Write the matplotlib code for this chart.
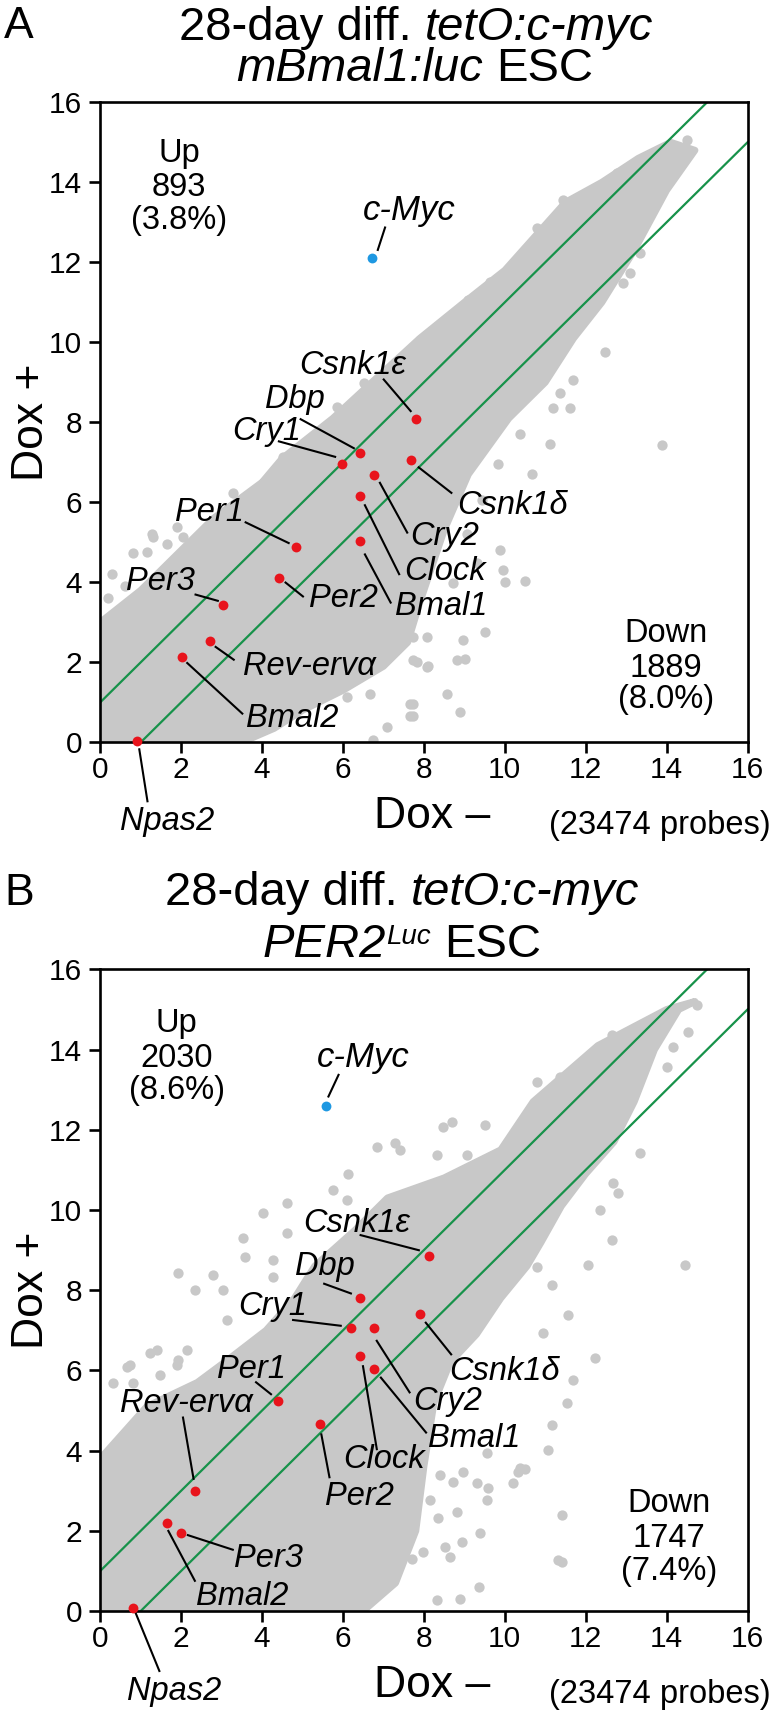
import matplotlib
matplotlib.use("Agg")
import matplotlib.pyplot as plt

plt.rcParams['font.family'] = ['Liberation Sans', 'DejaVu Sans']

W, H, DPI = 772, 1713, 100

# ---------------- data ----------------
genes = ['Csnk1ε', 'Dbp', 'Cry1', 'Csnk1δ', 'Cry2', 'Clock', 'Bmal1',
         'Per1', 'Per2', 'Per3', 'Rev-ervα', 'Bmal2', 'Npas2']

# panel A (mBmal1:luc)
A_gene_x = [7.81, 6.43, 5.97, 7.67, 6.76, 6.41, 6.41, 4.85, 4.43, 3.03, 2.70, 2.02, 0.91]
A_gene_y = [8.09, 7.24, 6.96, 7.05, 6.69, 6.15, 5.03, 4.88, 4.12, 3.44, 2.54, 2.13, 0.03]
A_myc = [6.71, 12.11]
A_up_count, A_up_pct = 893, 3.8
A_down_count, A_down_pct = 1889, 8.0

# dense core of the probe cloud (upper / lower envelope)
A_core_up_x = [0, 1, 2, 2.8, 4, 4.5, 5.75, 6.5, 7.9, 9.0, 10.0, 11.5, 12.4, 13.3, 14.1, 14.7]
A_core_up_y = [3.0, 3.8, 4.8, 5.6, 6.5, 7.1, 8.1, 8.8, 10.1, 11.0, 11.8, 13.5, 14.0, 14.6, 15.0, 14.8]
A_core_lo_x = [0, 3.5, 4.3, 5.0, 6.0, 7.0, 7.6, 7.9, 8.5, 9.1, 10.1, 11.0, 11.7, 12.4, 13.2, 14.0, 14.7]
A_core_lo_y = [0, 0, 0.35, 0.8, 1.3, 1.9, 2.5, 3.5, 5.3, 6.7, 8.1, 9.0, 10.1, 11.0, 12.3, 13.8, 14.8]

A_out_x = [9.46, 9.63, 6.51, 5.84, 4.52, 4.03, 3.29, 1.31, 0.81, 1.89, 2.38, 1.15, 1.64, 2.05,
           1.27, 9.10, 10.79, 11.45, 12.77, 7.90, 14.50, 14.02, 0.30, 0.60, 0.20,
           7.74, 8.07, 8.97, 9.51, 8.81, 7.74, 8.07, 9.96, 10.00, 10.50, 9.02, 8.56, 7.74,
           7.74, 8.89, 7.82, 8.11, 6.67, 7.66, 7.66, 6.75, 7.08, 6.09, 12.48, 11.69, 11.61,
           11.20, 13.88, 11.12, 10.67, 9.84, 13.10, 12.93, 13.34, 10.95, 11.36, 9.88, 10.37,
           9.43, 9.88, 9.06, 9.31, 8.73]
A_out_y = [11.31, 11.52, 8.98, 8.39, 7.14, 6.48, 6.23, 5.14, 4.73, 5.39, 5.14, 4.77, 4.97, 5.14,
           5.22, 11.06, 12.85, 13.56, 14.22, 10.06, 15.06, 14.00, 4.20, 3.90, 3.60,
           2.64, 2.64, 2.56, 2.77, 2.06, 2.06, 1.89, 4.31, 4.02, 4.04, 2.08, 1.22, 0.97,
           0.66, 0.77, 2.02, 1.91, 1.22, 0.97, 0.66, 0.06, 0.39, 1.14, 9.77, 9.06, 8.35,
           8.35, 7.43, 7.47, 6.72, 6.97, 11.72, 11.47, 12.23, 9.31, 8.73, 7.97, 7.72,
           6.06, 4.81, 5.22, 4.48, 3.98]

# panel B (PER2^Luc)
B_gene_x = [8.13, 6.41, 6.20, 7.91, 6.76, 6.41, 6.76, 4.40, 5.42, 2.00, 2.35, 1.65, 0.82]
B_gene_y = [8.85, 7.81, 7.05, 7.41, 7.05, 6.36, 6.03, 5.24, 4.66, 1.95, 3.00, 2.19, 0.08]
B_myc = [5.57, 12.59]
B_up_count, B_up_pct = 2030, 8.6
B_down_count, B_down_pct = 1747, 7.4

B_core_up_x = [0, 1.15, 2.4, 3.2, 4.1, 4.8, 5.3, 6.3, 7.1, 8.5, 9.9, 10.7, 12.3, 14.0, 14.7]
B_core_up_y = [3.8, 5.1, 5.7, 6.3, 7.0, 7.8, 8.6, 9.5, 10.3, 10.8, 11.5, 12.7, 14.1, 15.0, 15.2]
B_core_lo_x = [0, 6.5, 7.3, 7.8, 8.0, 8.25, 8.65, 9.3, 9.9, 10.55, 10.9, 11.4, 12.0, 12.7,
               13.2, 13.7, 14.3, 14.7]
B_core_lo_y = [0, 0, 0.7, 2.0, 3.6, 5.2, 6.2, 6.9, 7.8, 8.6, 9.2, 10.1, 10.9, 11.7,
               12.7, 14.0, 15.0, 15.2]

B_out_x = [8.69, 9.51, 6.83, 7.29, 7.41, 8.32, 9.06, 6.13, 5.76, 4.61, 4.03, 3.54, 3.58, 2.79,
           1.93, 2.34, 4.28, 3.12, 2.14, 1.23, 0.65, 0.32, 1.93, 0.73, 1.48, 1.89, 10.79,
           11.36, 12.64, 14.74, 14.54, 14.17, 14.00, 8.48, 6.09, 4.28, 4.61, 3.04, 1.39, 0.82,
           13.34, 12.68, 12.80, 12.35, 12.64, 12.06, 14.45, 11.16, 11.57, 10.95, 12.23, 11.69,
           11.53, 11.16, 11.08, 10.38, 10.33, 10.49, 10.21, 9.59, 9.55, 9.31, 8.73, 8.97, 8.40,
           11.41, 9.39, 8.93, 8.52, 8.81, 8.36, 8.15, 8.65, 7.99, 11.32, 11.41, 9.35, 8.89,
           8.32, 7.70, 9.55, 10.79]
B_out_y = [12.20, 12.12, 11.58, 11.66, 11.50, 11.37, 11.37, 10.91, 10.50, 10.17, 9.92, 9.29,
           8.84, 8.38, 8.42, 8.00, 8.34, 7.26, 6.51, 6.43, 6.09, 5.68, 6.26, 6.13, 5.89, 6.13,
           13.20, 13.32, 14.36, 15.11, 14.45, 14.07, 13.57, 12.08, 10.25, 8.75, 9.42, 8.00,
           6.51, 5.68,
           11.41, 10.67, 10.42, 10.00, 9.25, 8.63, 8.63, 8.13, 7.38, 6.93, 6.30, 5.76,
           5.18, 4.64, 4.01, 3.56, 3.47, 3.54, 3.18, 3.06, 2.77, 3.18, 3.22, 3.47, 3.39,
           2.39, 1.94, 1.73, 1.60, 2.48, 2.31, 2.77, 1.35, 1.48, 1.27, 1.23, 0.61, 0.29,
           0.27, 1.30, 3.93, 8.59]

n_probes = 23474
ticks = [0, 2, 4, 6, 8, 10, 12, 14, 16]

# ---------------- layout (not data) ----------------
A_lab = {  # text centre x, baseline y, leader start, leader end
    'Csnk1ε': (6.24, 9.22, (6.99, 9.09), (7.69, 8.26)),
    'Dbp': (4.80, 8.35, (4.93, 8.09), (6.29, 7.34)),
    'Cry1': (4.11, 7.55, (4.39, 7.53), (5.83, 7.13)),
    'Csnk1δ': (10.18, 5.72, (7.85, 6.89), (8.70, 6.22)),
    'Cry2': (8.51, 4.93, (6.90, 6.51), (7.60, 5.22)),
    'Clock': (8.51, 4.05, (6.53, 5.95), (7.40, 4.18)),
    'Bmal1': (8.43, 3.18, (6.53, 4.72), (7.19, 3.47)),
    'Per1': (2.70, 5.53, (3.57, 5.51), (4.68, 4.97)),
    'Per2': (6.00, 3.38, (4.56, 4.01), (5.03, 3.63)),
    'Per3': (1.49, 3.80, (2.33, 3.70), (2.93, 3.53)),
    'Rev-ervα': (5.17, 1.68, (2.83, 2.40), (3.32, 2.05)),
    'Bmal2': (4.74, 0.38, (2.13, 2.00), (3.53, 0.70)),
    'Npas2': (1.65, -2.20, (0.96, -0.15), (1.17, -1.50)),
}
A_myc_lab = (7.63, 13.06, (7.04, 12.87), (6.86, 12.31))
B_lab = {
    'Csnk1ε': (6.33, 9.46, (6.41, 9.38), (7.90, 8.99)),
    'Dbp': (5.54, 8.38, (5.51, 8.17), (6.22, 7.91)),
    'Cry1': (4.26, 7.38, (4.74, 7.26), (5.97, 7.11)),
    'Csnk1δ': (9.99, 5.76, (8.03, 7.21), (8.69, 6.38)),
    'Cry2': (8.59, 5.01, (6.82, 6.76), (7.66, 5.43)),
    'Bmal1': (9.24, 4.10, (6.92, 5.84), (8.07, 4.43)),
    'Clock': (7.02, 3.56, (6.49, 6.13), (6.84, 4.01)),
    'Per2': (6.40, 2.64, (5.46, 4.43), (5.67, 3.31)),
    'Per1': (3.73, 5.80, (3.83, 5.72), (4.24, 5.39)),
    'Rev-ervα': (2.12, 4.97, (2.04, 4.85), (2.31, 3.27)),
    'Per3': (4.16, 1.10, (2.14, 1.90), (3.30, 1.52)),
    'Bmal2': (3.52, 0.15, (1.67, 2.02), (2.35, 0.73)),
    'Npas2': (1.82, -2.22, (0.87, -0.04), (1.47, -1.52)),
}
B_myc_lab = (6.50, 13.57, (5.89, 13.37), (5.64, 12.83))

GRAY = '#c8c8c8'
GREEN = '#17924a'
RED = '#e8141c'
BLUE = '#1e98e2'

fig = plt.figure(figsize=(W / DPI, H / DPI), dpi=DPI)


def px_axes(left, top, right, bottom):
    return fig.add_axes([left / W, 1 - bottom / H, (right - left) / W, (bottom - top) / H])


axA = px_axes(100.3, 102.3, 747.5, 742.3)
axB = px_axes(100.3, 969.4, 747.5, 1611.0)


def draw_panel(ax, core_up_x, core_up_y, core_lo_x, core_lo_y, out_x, out_y,
               gx, gy, myc, labels, myc_lab, up, down, up_pos, down_pos):
    poly_x = list(core_up_x) + list(core_lo_x[::-1])
    poly_y = list(core_up_y) + list(core_lo_y[::-1])
    ax.fill(poly_x, poly_y, facecolor=GRAY, edgecolor=GRAY, linewidth=5,
            joinstyle='round', zorder=1)
    ax.scatter(out_x, out_y, s=55, color=GRAY, linewidths=0, zorder=1)
    ax.plot([0, 16], [1, 17], color=GREEN, lw=1.6, zorder=2)
    ax.plot([0, 16], [-1, 15], color=GREEN, lw=1.6, zorder=2)
    for g, x, y in zip(genes, gx, gy):
        tx, ty, p1, p2 = labels[g]
        ax.plot([p1[0], p2[0]], [p1[1], p2[1]], color='black', lw=1.5,
                zorder=3, clip_on=False, solid_capstyle='butt')
        ax.text(tx, ty, g, style='italic', fontsize=23.5, ha='center',
                va='baseline', zorder=5, clip_on=False)
    ax.scatter(gx, gy, s=50, color=RED, linewidths=0, zorder=4, clip_on=False)
    tx, ty, p1, p2 = myc_lab
    ax.plot([p1[0], p2[0]], [p1[1], p2[1]], color='black', lw=1.5, zorder=3)
    ax.text(tx, ty, 'c-Myc', style='italic', fontsize=25, ha='center', va='baseline')
    ax.scatter([myc[0]], [myc[1]], s=50, color=BLUE, linewidths=0, zorder=4)

    ux, uys = up_pos
    for t, yy in zip(['Up', str(up[0]), '(%.1f%%)' % up[1]], uys):
        ax.text(ux, yy, t, fontsize=23.5, ha='center', va='baseline')
    dx, dys = down_pos
    for t, yy in zip(['Down', str(down[0]), '(%.1f%%)' % down[1]], dys):
        ax.text(dx, yy, t, fontsize=23.5, ha='center', va='baseline')
    ax.text(16.56, -2.29, '(%d probes)' % n_probes, fontsize=23.5, ha='right',
            va='baseline', clip_on=False)
    ax.text(8.2, -2.14, 'Dox \u2013', fontsize=32, ha='center', va='baseline',
            clip_on=False)
    ax.text(-0.106, 0.5, 'Dox +', fontsize=32, rotation=90, ha='center',
            va='center', transform=ax.transAxes)

    ax.set_xlim(0, 16)
    ax.set_ylim(0, 16)
    ax.set_xticks(ticks)
    ax.set_yticks(ticks)
    ax.set_xticklabels([str(t) for t in ticks])
    ax.set_yticklabels([str(t) for t in ticks])
    for sp in ax.spines.values():
        sp.set_linewidth(1.9)
    ax.tick_params(axis='both', direction='out', length=8, width=1.9,
                   labelsize=21.5, top=False, right=False)
    ax.tick_params(axis='x', pad=2)
    ax.tick_params(axis='y', pad=5)


draw_panel(axA, A_core_up_x, A_core_up_y, A_core_lo_x, A_core_lo_y, A_out_x, A_out_y,
           A_gene_x, A_gene_y, A_myc, A_lab, A_myc_lab,
           (A_up_count, A_up_pct), (A_down_count, A_down_pct),
           (1.95, [14.5, 13.65, 12.82]), (13.98, [2.52, 1.64, 0.85]))
draw_panel(axB, B_core_up_x, B_core_up_y, B_core_lo_x, B_core_lo_y, B_out_x, B_out_y,
           B_gene_x, B_gene_y, B_myc, B_lab, B_myc_lab,
           (B_up_count, B_up_pct), (B_down_count, B_down_pct),
           (1.89, [14.45, 13.57, 12.76]), (14.06, [2.48, 1.60, 0.77]))

# ---------------- titles with mixed styles ----------------
renderer = fig.canvas.get_renderer()


def text_width(s, size, style):
    t = fig.text(0, 0, s, fontsize=size, style=style)
    w = t.get_window_extent(renderer).width
    t.remove()
    return w


def rich_line(cx, baseline, pieces):
    items = []
    total = 0.0
    for txt, style, size, rise in pieces:
        if txt == ' ':
            w = text_width('x x', size, style) - text_width('xx', size, style)
            items.append((None, w, rise))
        else:
            t = fig.text(0, 0, txt, fontsize=size, style=style, ha='left', va='baseline')
            w = t.get_window_extent(renderer).width
            items.append((t, w, rise))
        total += w
    x = cx - total / 2
    for t, w, rise in items:
        if t is not None:
            t.set_position((x / W, 1 - (baseline - rise) / H))
        x += w


TS = 34
rich_line(416, 40, [('28-day diff.', 'normal', TS, 0), (' ', 'normal', TS, 0),
                    ('tetO:c-myc', 'italic', TS, 0)])
rich_line(415, 81, [('mBmal1:luc', 'italic', TS, 0), (' ', 'normal', TS, 0),
                    ('ESC', 'normal', TS, 0)])
rich_line(402, 905, [('28-day diff.', 'normal', TS, 0), (' ', 'normal', TS, 0),
                     ('tetO:c-myc', 'italic', TS, 0)])
rich_line(402, 957, [('PER2', 'italic', TS, 0), ('Luc', 'italic', 20, 13),
                     (' ', 'normal', TS, 0), ('ESC', 'normal', TS, 0)])

fig.text(4 / W, 1 - 38.5 / H, 'A', fontsize=32, ha='left', va='baseline')
fig.text(4 / W, 1 - 905 / H, 'B', fontsize=32, ha='left', va='baseline')

fig.savefig('out.png', dpi=DPI)
